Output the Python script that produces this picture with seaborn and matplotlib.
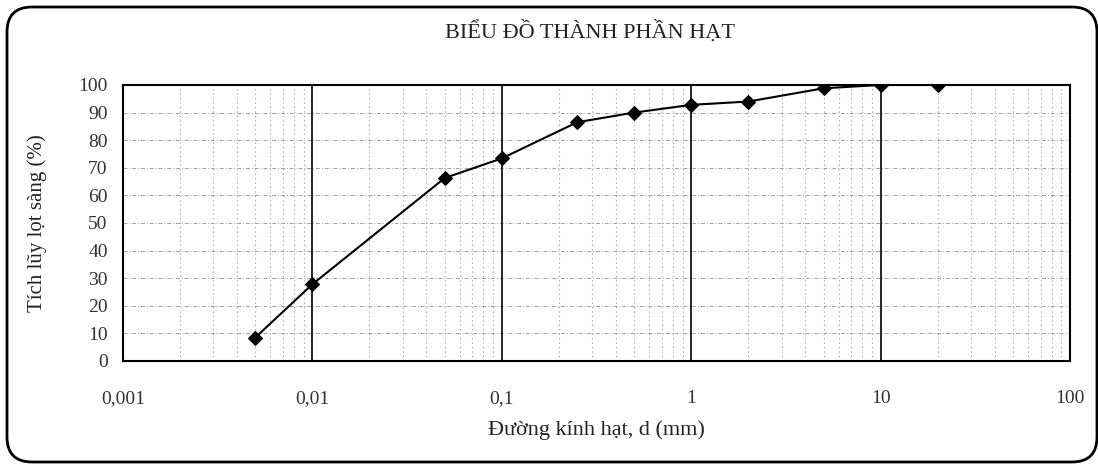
import numpy as np
import pandas as pd
import matplotlib
matplotlib.use("Agg")
import matplotlib.pyplot as plt
import seaborn as sns
from matplotlib.patches import FancyBboxPatch
from matplotlib.transforms import IdentityTransform
from matplotlib.ticker import FixedLocator, NullFormatter

# Grain size data
duong_kinh = [0.005, 0.01, 0.05, 0.1, 0.25, 0.5, 1, 2, 5, 10, 20]
lot_sang = [8.5, 27.8, 66.3, 73.4, 86.5, 90.0, 92.8, 94.0, 98.8, 100.0, 100.0]

x_ticks = [0.001, 0.01, 0.1, 1, 10, 100]
x_labels = ["0,001", "0,01", "0,1", "1", "10", "100"]
y_ticks = list(range(0, 101, 10))

df = pd.DataFrame({"d": duong_kinh, "p": lot_sang})

sns.set_style("white")
plt.rcParams['font.family'] = ['Liberation Serif', 'DejaVu Serif']

fig = plt.figure(figsize=(10.98, 4.69), dpi=100)
ax = fig.add_axes([0.112, 0.2303, 0.8625, 0.5885])

# minor grid (vertical dotted lines at 2..9 in each decade)
minor = [m * 10.0 ** e for e in range(-3, 2) for m in range(2, 10)]
ax.xaxis.set_minor_locator(FixedLocator(minor))
ax.xaxis.set_minor_formatter(NullFormatter())
ax.grid(which="minor", axis="x", color="#999999", linestyle=(0, (1, 3)), linewidth=0.8)
ax.grid(which="major", axis="y", color="#9aa0b0", linestyle=(0, (4, 2, 1, 2)), linewidth=0.7)
for xv in x_ticks[1:-1]:
    ax.axvline(xv, color="black", linewidth=1.2, zorder=1)

sns.lineplot(data=df, x="d", y="p", ax=ax, color="black", marker="D",
             markersize=7, linewidth=1.5, markeredgecolor="black", zorder=3)

ax.set_xscale("log")
ax.set_xlim(0.001, 100)
ax.set_ylim(0, 100)
ax.set_xticks(x_ticks)
ax.set_xticklabels(x_labels)
ax.set_yticks(y_ticks)

for s in ax.spines.values():
    s.set_color("black")
    s.set_linewidth(1.5)
ax.tick_params(axis="y", which="major", direction="inout", length=12, width=1.5,
               labelsize=14, pad=5, colors="black", labelcolor="#333333")
ax.tick_params(axis="x", which="major", direction="out", length=8, width=1.2,
               labelsize=14, pad=13, colors="black", labelcolor="#333333")
ax.tick_params(axis="x", which="minor", length=0)

ax.set_xlabel("Đường kính hạt, d (mm)", fontsize=16, color="#222222", va="center")
ax.set_ylabel("Tích lũy lọt sàng (%)", fontsize=15, color="#222222", va="center")
ax.xaxis.set_label_coords(0.5, -0.25)
ax.yaxis.set_label_coords(-0.091, 0.5)
fig.text(0.537, 0.932, "BIỂU ĐỒ THÀNH PHẦN HẠT", ha="center", va="center",
         fontsize=16, color="#222222")

# rounded frame around the whole chart (pixel coordinates)
frame = FancyBboxPatch((7, 7), 1090, 455, boxstyle="round,pad=0,rounding_size=25",
                       transform=IdentityTransform(), fill=False, edgecolor="black",
                       linewidth=2)
fig.patches.append(frame)

fig.savefig("out.png", dpi=100)
